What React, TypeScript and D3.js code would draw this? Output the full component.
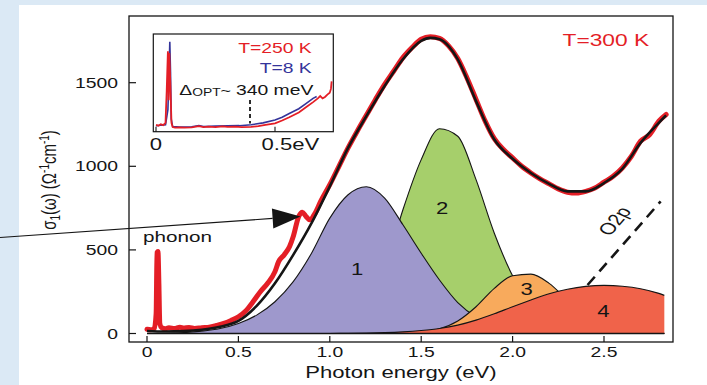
import React from 'react';
import * as d3 from 'd3';

// ---------- data ----------
const xTicks = [0, 0.5, 1.0, 1.5, 2.0, 2.5];
const xTickLabels = ['0', '0.5', '1.0', '1.5', '2.0', '2.5'];
const yTicks = [0, 500, 1000, 1500];

const compE = [0, 0.1, 0.2, 0.3, 0.4, 0.5, 0.6, 0.7, 0.8, 0.9, 1.0, 1.1, 1.2, 1.3, 1.4, 1.5, 1.6, 1.7, 1.8, 1.9, 2.0, 2.1, 2.2, 2.3, 2.4, 2.5, 2.6, 2.7, 2.8, 2.83];
const comp1 = [0, 1, 5, 14, 30, 60, 110, 190, 310, 480, 690, 830, 878, 810, 650, 480, 320, 185, 100, 55, 30, 17, 9, 5, 2, 1, 0, 0, 0, 0];
const comp2 = [0, 0, 0, 0, 0, 0, 0, 1, 2, 5, 18, 55, 150, 380, 740, 1040, 1225, 1180, 920, 600, 345, 175, 80, 32, 12, 4, 1, 0, 0, 0];
const comp3 = [0, 0, 0, 0, 0, 0, 0, 0, 0, 0, 0, 0, 0, 0, 2, 8, 28, 75, 160, 270, 345, 355, 300, 200, 110, 50, 20, 6, 2, 1];
const comp4 = [0, 0, 0, 0, 0, 0, 0, 0, 0, 0, 0, 1, 2, 5, 10, 18, 30, 50, 80, 118, 160, 200, 238, 265, 282, 288, 283, 268, 240, 228];
const compLabels = ['1', '2', '3', '4'];
const compLabelE = [1.149, 1.614, 2.077, 2.496];
const compLabelV = [347, 712, 233, 99];

const fitE = [0, 0.1, 0.2, 0.3, 0.4, 0.5, 0.6, 0.7, 0.8, 0.9, 1.0, 1.1, 1.2, 1.3, 1.4, 1.5, 1.55, 1.6, 1.7, 1.8, 1.9, 2.0, 2.1, 2.2, 2.3, 2.4, 2.5, 2.6, 2.7, 2.8, 2.84];
const fitV = [15, 12, 14, 22, 40, 75, 165, 300, 470, 660, 880, 1110, 1300, 1480, 1640, 1750, 1768, 1760, 1640, 1390, 1160, 1045, 960, 895, 850, 850, 900, 985, 1140, 1260, 1305];

const dataE = [0.0, 0.02, 0.04, 0.05, 0.055, 0.06, 0.065, 0.07, 0.08, 0.1, 0.12, 0.15, 0.18, 0.2, 0.23, 0.26, 0.3, 0.34, 0.38, 0.42, 0.46, 0.5, 0.54, 0.58, 0.62, 0.66, 0.7, 0.72, 0.75, 0.78, 0.8, 0.83, 0.85, 0.87, 0.89, 0.92, 0.95, 1.0, 1.05, 1.1, 1.15, 1.2, 1.25, 1.3, 1.35, 1.4, 1.45, 1.5, 1.55, 1.6, 1.65, 1.7, 1.75, 1.8, 1.85, 1.9, 1.95, 2.0, 2.05, 2.1, 2.15, 2.2, 2.25, 2.3, 2.35, 2.4, 2.45, 2.5, 2.55, 2.6, 2.65, 2.7, 2.75, 2.8, 2.84];
const dataV = [25, 22, 30, 120, 485, 490, 300, 60, 35, 28, 35, 30, 38, 33, 36, 30, 35, 38, 48, 60, 78, 100, 135, 190, 250, 300, 370, 430, 470, 520, 580, 700, 725, 700, 680, 720, 790, 890, 1000, 1110, 1210, 1305, 1400, 1490, 1570, 1650, 1710, 1760, 1775, 1765, 1720, 1645, 1530, 1400, 1270, 1165, 1100, 1050, 1000, 960, 925, 895, 865, 845, 840, 850, 870, 905, 940, 990, 1060, 1150, 1190, 1270, 1310];

const o2pE = [2.41, 2.81];
const o2pV = [290, 790];

const arrowTargetE = 0.84;
const arrowTargetV = 700;

// inset
const inTicks = [0, 0.5];
const inTickLabels = ['0', '0.5eV'];
const inRedE = [0, 0.01, 0.02, 0.03, 0.04, 0.045, 0.05, 0.053, 0.056, 0.06, 0.065, 0.07, 0.08, 0.1, 0.12, 0.15, 0.18, 0.2, 0.22, 0.25, 0.28, 0.3, 0.33, 0.36, 0.4, 0.43, 0.46, 0.5, 0.53, 0.56, 0.6, 0.63, 0.66, 0.68, 0.69, 0.7, 0.71, 0.72, 0.73, 0.735, 0.738];
const inRedV = [40, 30, 45, 35, 60, 400, 820, 300, 800, 500, 60, 15, 10, 12, 10, 12, 25, 15, 20, 15, 22, 18, 20, 15, 18, 25, 38, 55, 85, 120, 170, 225, 280, 320, 345, 320, 335, 360, 380, 420, 500];
const inBlueE = [0, 0.02, 0.04, 0.05, 0.055, 0.058, 0.061, 0.064, 0.07, 0.1, 0.15, 0.18, 0.2, 0.25, 0.3, 0.35, 0.4, 0.45, 0.5, 0.53, 0.56, 0.6, 0.63, 0.66, 0.675];
const inBlueV = [30, 35, 40, 200, 600, 920, 600, 100, 20, 15, 18, 30, 20, 25, 28, 30, 40, 60, 90, 120, 160, 210, 265, 320, 340];
const gapE = 0.395;

// ---------- style ----------
const SX = 1.38;
const FONT = '"Liberation Sans", Arial, Helvetica, sans-serif';
const RED = '#e41e26';
const BLUE = '#34349a';
const INK = '#151515';
const FILLS = ['#9e98cc', '#a6cf6b', '#f8aa5c', '#f0634a'];

function T({ x, y, size, anchor = 'start', fill = INK, rotate = 0, children }: any) {
  return (
    <text
      transform={`translate(${x},${y}) scale(${SX},1)${rotate ? ` rotate(${rotate})` : ''}`}
      fontSize={size}
      textAnchor={anchor}
      fill={fill}
      fontFamily={FONT}
    >
      {children}
    </text>
  );
}

export default function App() {
  const left = 129, right = 673, top = 16, bottom = 342;
  const x = d3.scaleLinear().domain([0, 2.5]).range([147, 604]);
  const y = d3.scaleLinear().domain([0, 1500]).range([333.5, 82.7]);

  const mkLine = (E: number[], V: number[], curve: any = d3.curveMonotoneX) =>
    d3.line<number>().x((_, i) => x(E[i])).y((d) => y(d)).curve(curve)(V) || '';
  const mkArea = (E: number[], V: number[]) =>
    d3.area<number>().x((_, i) => x(E[i])).y0(y(0)).y1((d) => y(d)).curve(d3.curveMonotoneX)(V) || '';

  const comps = [comp1, comp2, comp3, comp4];
  const order = [1, 0, 2, 3];

  // inset scales
  const ix = d3.scaleLinear().domain([0, 0.5]).range([156, 275]);
  const iy = d3.scaleLinear().domain([0, 1000]).range([128.5, 34.3]);
  const inL = 153.3, inR = 333.3, inT = 34, inB = 131.7;
  const mkInLine = (E: number[], V: number[]) =>
    d3.line<number>().x((_, i) => ix(E[i])).y((d) => iy(d)).curve(d3.curveLinear)(V) || '';

  // arrow
  const tipX = x(arrowTargetE), tipY = y(arrowTargetV);
  const sx0 = 0, sy0 = 237.5;
  const dx = tipX - sx0, dy = tipY - sy0;
  const len = Math.hypot(dx, dy);
  const ux = dx / len, uy = dy / len;
  const bx = tipX - ux * 28, by = tipY - uy * 28;
  const head = `M${tipX},${tipY} L${bx - uy * 10},${by + ux * 10} L${bx + uy * 10},${by - ux * 10} Z`;

  const o2pAngle = -58;

  return (
    <svg width={707} height={385} style={{ position: 'absolute', left: 0, top: 0 }}>
      <rect x={0} y={0} width={707} height={385} fill="#dbe9f5" />
      <rect x={19} y={5} width={688} height={380} fill="#ffffff" />

      {/* components */}
      {order.map((k) => (
        <g key={k}>
          <path d={mkArea(compE, comps[k])} fill={FILLS[k]} stroke="none" />
          <path d={mkLine(compE, comps[k])} fill="none" stroke={INK} strokeWidth={1.1} />
        </g>
      ))}
      <line x1={x(0)} x2={x(2.83)} y1={y(0)} y2={y(0)} stroke={INK} strokeWidth={1.3} />
      {compLabels.map((s, i) => (
        <T key={s} x={x(compLabelE[i])} y={y(compLabelV[i])} size={16} anchor="middle">{s}</T>
      ))}

      {/* O2p */}
      <path d={mkLine(o2pE, o2pV, d3.curveLinear)} fill="none" stroke={INK} strokeWidth={2.6} strokeDasharray="11,7" />
      <T x={621} y={224} size={16} anchor="middle" rotate={o2pAngle}>O2p</T>

      {/* data + fit */}
      <path d={mkLine(dataE, dataV)} fill="none" stroke={RED} strokeWidth={5} strokeLinejoin="round" strokeLinecap="round" />
      <path d={mkLine(fitE, fitV)} fill="none" stroke={INK} strokeWidth={2.6} strokeLinejoin="round" />

      {/* frame */}
      <rect x={left} y={top} width={right - left} height={bottom - top} fill="none" stroke={INK} strokeWidth={1.3} />
      {xTicks.map((t, i) => (
        <g key={t}>
          <line x1={x(t)} x2={x(t)} y1={bottom} y2={bottom - 6} stroke={INK} strokeWidth={1.2} />
          <T x={x(t)} y={357} size={14} anchor="middle">{xTickLabels[i]}</T>
        </g>
      ))}
      {yTicks.map((t) => (
        <g key={t}>
          <line x1={left} x2={left + 7} y1={y(t)} y2={y(t)} stroke={INK} strokeWidth={1.2} />
          <T x={118} y={y(t) + 5} size={14} anchor="end">{t}</T>
        </g>
      ))}
      <T x={(left + right) / 2} y={378} size={16} anchor="middle">Photon energy (eV)</T>
      <text transform={`translate(56,180) rotate(-90) scale(1,${SX})`} fontSize={15} textAnchor="middle" fill={INK} fontFamily={FONT}>
        σ<tspan dy={3} fontSize={10}>1</tspan>
        <tspan dy={-3}>(ω) (Ω</tspan>
        <tspan dy={-5} fontSize={10}>-1</tspan>
        <tspan dy={5}>cm</tspan>
        <tspan dy={-5} fontSize={10}>-1</tspan>
        <tspan dy={5}>)</tspan>
      </text>

      <T x={562.5} y={46} size={16.5} fill={RED}>T=300 K</T>
      <T x={143} y={242} size={15}>phonon</T>

      {/* arrow */}
      <line x1={sx0} y1={sy0} x2={bx} y2={by} stroke={INK} strokeWidth={1.1} />
      <path d={head} fill={INK} />

      {/* inset */}
      <rect x={inL} y={inT} width={inR - inL} height={inB - inT} fill="#ffffff" stroke={INK} strokeWidth={1.2} />
      <path d={mkInLine(inBlueE, inBlueV)} fill="none" stroke={BLUE} strokeWidth={1.6} />
      <path d={mkInLine(inRedE, inRedV)} fill="none" stroke={RED} strokeWidth={1.8} />
      <line x1={ix(gapE)} x2={ix(gapE)} y1={100} y2={123.5} stroke={INK} strokeWidth={1.8} strokeDasharray="4,3" />
      {inTicks.map((t, i) => (
        <g key={t}>
          <line x1={ix(t)} x2={ix(t)} y1={inB} y2={inB - 5} stroke={INK} strokeWidth={1.1} />
          <T x={i === 0 ? ix(t) : ix(t) - 13.5} y={150} size={16} anchor={i === 0 ? 'middle' : 'start'}>{inTickLabels[i]}</T>
        </g>
      ))}
      <T x={311.7} y={53.3} size={14} anchor="end" fill={RED}>T=250 K</T>
      <T x={311.7} y={73.3} size={14} anchor="end" fill={BLUE}>T=8 K</T>
      <text transform={`translate(179.3,95) scale(${SX},1)`} fontSize={14} fill={INK} fontFamily={FONT}>
        Δ<tspan fontSize={10} dy={1}>OPT</tspan>
        <tspan dy={-1} fontSize={13}>~ </tspan>
        <tspan fontSize={14}>340 meV</tspan>
      </text>
    </svg>
  );
}
